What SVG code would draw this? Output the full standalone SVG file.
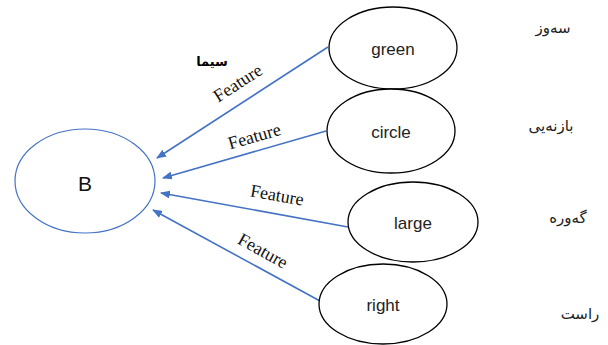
<svg xmlns="http://www.w3.org/2000/svg" width="608" height="345" viewBox="0 0 608 345">
<defs>
<marker id="ah" markerWidth="10" markerHeight="8" refX="9" refY="4" orient="auto" markerUnits="userSpaceOnUse">
<path d="M0,0 L10,4 L0,8 Z" fill="#4472C4"/>
</marker>
<style>
.node{fill:#fff;stroke:#000;stroke-width:1.3}
.nt{font-family:"Liberation Sans","DejaVu Sans",sans-serif;font-size:17px;fill:#222;text-anchor:middle;dominant-baseline:central}
.edge{stroke:#4472C4;stroke-width:1.6;fill:none;marker-end:url(#ah)}
.el{font-family:"Liberation Serif","DejaVu Serif",serif;font-size:18px;fill:#111;text-anchor:middle}
.ku{font-family:"DejaVu Sans","Noto Sans",sans-serif;font-size:15px;fill:#222;text-anchor:middle;dominant-baseline:central}
</style>
</defs>
<rect width="608" height="345" fill="#fff"/>
<g id="connectors">
<line class="edge" x1="328" y1="47" x2="157" y2="158"/>
<line class="edge" x1="326" y1="131" x2="163" y2="178"/>
<line class="edge" x1="348" y1="227" x2="161" y2="193"/>
<line class="edge" x1="320" y1="301" x2="153" y2="210"/>
<text class="el" transform="translate(241,88) rotate(-33)">Feature</text>
<text class="el" transform="translate(256,142) rotate(-16)">Feature</text>
<text class="el" transform="translate(276,201) rotate(10)">Feature</text>
<text class="el" transform="translate(260,256) rotate(29)">Feature</text>
</g>
<text x="212" y="66" font-family="DejaVu Sans,sans-serif" font-size="13" font-weight="bold" text-anchor="middle" fill="#000">سیما</text>
<g id="B">
<ellipse cx="85" cy="181" rx="70" ry="52" fill="#fff" stroke="#4472C4" stroke-width="1.2"/>
<text class="nt" x="85" y="183" style="font-size:21px;fill:#111">B</text>
</g>
<g id="green">
<ellipse class="node" cx="393" cy="48" rx="64" ry="41"/>
<text class="nt" x="393" y="49">green</text>
</g>
<g id="circle">
<ellipse class="node" cx="391" cy="131" rx="64" ry="42"/>
<text class="nt" x="391" y="132">circle</text>
</g>
<g id="large">
<ellipse class="node" cx="413" cy="222" rx="65" ry="40"/>
<text class="nt" x="413" y="223">large</text>
</g>
<g id="right">
<ellipse class="node" cx="383" cy="304" rx="64" ry="40"/>
<text class="nt" x="383" y="305">right</text>
</g>
<g id="kurdish">
<text class="ku" x="553" y="28">سەوز</text>
<text class="ku" x="551" y="126">بازنەیی</text>
<text class="ku" x="568" y="218">گەورە</text>
<text class="ku" x="580" y="314">راست</text>
</g>
</svg>
